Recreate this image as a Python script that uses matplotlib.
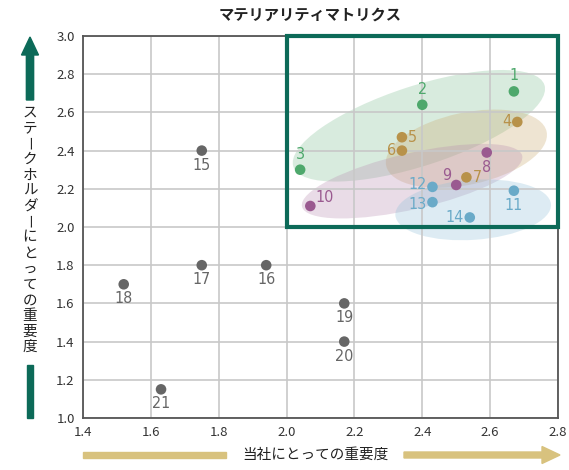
import matplotlib.pyplot as plt
from matplotlib.patches import Ellipse, Rectangle, FancyArrow
from matplotlib.transforms import ScaledTranslation

plt.rcParams['font.family'] = ['Noto Sans CJK JP', 'DejaVu Sans']

# data
labels = [str(i) for i in range(1, 22)]
x_vals = [2.67, 2.40, 2.04, 2.68, 2.34, 2.34, 2.53, 2.59, 2.50, 2.07, 2.67,
          2.43, 2.43, 2.54, 1.75, 1.94, 1.75, 1.52, 2.17, 2.17, 1.63]
y_vals = [2.71, 2.64, 2.30, 2.55, 2.47, 2.40, 2.26, 2.39, 2.22, 2.11, 2.19,
          2.21, 2.13, 2.05, 2.40, 1.80, 1.80, 1.70, 1.60, 1.40, 1.15]
groups = ['g', 'g', 'g', 't', 't', 't', 't', 'p', 'p', 'p', 'b',
          'b', 'b', 'b', 'k', 'k', 'k', 'k', 'k', 'k', 'k']
# where each number sits relative to its dot
label_pos = ['above', 'above', 'above', 'left', 'right', 'left', 'right', 'below',
             'upleft', 'upright', 'below', 'left', 'left', 'left', 'below',
             'below', 'below', 'below', 'below', 'below', 'below']

dot_col = {'g': '#4ea86c', 't': '#b8924a', 'p': '#9a5a90', 'b': '#6aaac8', 'k': '#666666'}
fill_col = {'g': '#7fbf92', 't': '#c9a86a', 'p': '#b88cb0', 'b': '#8fc0d8'}

# group ellipses: centre (data), size in px, angle in degrees
ell_center = {'g': (2.39, 2.53), 't': (2.53, 2.41), 'p': (2.37, 2.24), 'b': (2.55, 2.09)}
ell_size = {'g': (264, 80), 't': (164, 72), 'p': (226, 56), 'b': (156, 60)}
ell_angle = {'g': 18, 't': 12, 'p': 13, 'b': 4}

W, H = 569, 470
fig = plt.figure(figsize=(W / 100, H / 100), dpi=100)
ax = fig.add_axes([83 / W, 1 - 418 / H, 475 / W, 382 / H])
ax.set_xlim(1.4, 2.8)
ax.set_ylim(1.0, 3.0)
ax.set_xticks([1.4 + 0.2 * i for i in range(8)])
ax.set_yticks([1.0 + 0.2 * i for i in range(11)])
ax.set_xticklabels(['%.1f' % (1.4 + 0.2 * i) for i in range(8)])
ax.set_yticklabels(['%.1f' % (1.0 + 0.2 * i) for i in range(11)])
ax.grid(True, color='#c8c8c8', lw=1.2, zorder=0)
ax.tick_params(length=0, labelsize=9.5, colors='#333333', pad=6)
for s in ax.spines.values():
    s.set_color('#555555')
    s.set_linewidth(1.3)

for g in ['g', 't', 'p', 'b']:
    w, h = ell_size[g]
    tr = fig.dpi_scale_trans + ScaledTranslation(ell_center[g][0], ell_center[g][1], ax.transData)
    e = Ellipse((0, 0), w / 100, h / 100, angle=ell_angle[g], transform=tr,
                facecolor=fill_col[g], alpha=0.3, edgecolor='none', zorder=1)
    ax.add_patch(e)

ax.add_patch(Rectangle((2.0, 2.0), 0.8, 1.0, fill=False, edgecolor='#0c6a58',
                       lw=3, zorder=4, clip_on=False))

offs = {'above': (0, 8, 'center', 'bottom'), 'below': (0, -7, 'center', 'top'),
        'left': (-6, 0, 'right', 'center'), 'right': (6, 0, 'left', 'center'),
        'upleft': (-5, 2, 'right', 'bottom'), 'upright': (5, 1, 'left', 'bottom')}
for i in range(len(labels)):
    c = dot_col[groups[i]]
    ax.scatter(x_vals[i], y_vals[i], s=58, color=c, zorder=5, edgecolors='none')
    dx, dy, ha, va = offs[label_pos[i]]
    if labels[i] == '12':
        dy = 2
    if labels[i] == '13':
        dy = -2
    ax.annotate(labels[i], (x_vals[i], y_vals[i]), xytext=(dx, dy),
                textcoords='offset pixels', ha=ha, va=va, color=c,
                fontsize=11.5, family='DejaVu Sans', fontstretch='condensed', zorder=6)

fig.text(310 / W, 1 - 15 / H, 'マテリアリティマトリクス', ha='center', va='center',
         fontsize=11, fontweight='bold', color='#222222')


def fx(px):
    return px / W


def fy(py):
    return 1 - py / H


# y direction arrow
fig.patches.append(FancyArrow(fx(30), fy(100), 0, fy(37) - fy(100), width=6 / H,
                              head_width=17 / W, head_length=18 / H,
                              length_includes_head=True, color='#0c6a58',
                              transform=fig.transFigure, figure=fig))
fig.patches.append(Rectangle((fx(27), fy(418)), 6 / W, 53 / H, color='#0c6a58',
                             transform=fig.transFigure, figure=fig))
ylabel = 'ステークホルダーにとっての重要度'
for k, ch in enumerate(ylabel):
    if ch == 'ー':
        fig.text(fx(32.5), fy(110 + k * 15.6), ch, ha='center', va='center',
                 fontsize=10.5, rotation=90, rotation_mode='anchor', color='#222222')
    else:
        fig.text(fx(30), fy(113 + k * 15.6), ch, ha='center', va='center',
                 fontsize=10.5, color='#222222')

# x direction arrow
fig.patches.append(Rectangle((fx(83), fy(458)), 143 / W, 6 / H, color='#d8c27e',
                             transform=fig.transFigure, figure=fig))
fig.patches.append(FancyArrow(fx(404), fy(455), fx(560) - fx(404), 0, width=6 / H,
                              head_width=17 / H, head_length=18 / W,
                              length_includes_head=True, color='#d8c27e',
                              transform=fig.transFigure, figure=fig))
fig.text(fx(315), fy(455), '当社にとっての重要度', ha='center', va='center',
         fontsize=10.5, color='#222222')

plt.savefig('out.png', dpi=100)
